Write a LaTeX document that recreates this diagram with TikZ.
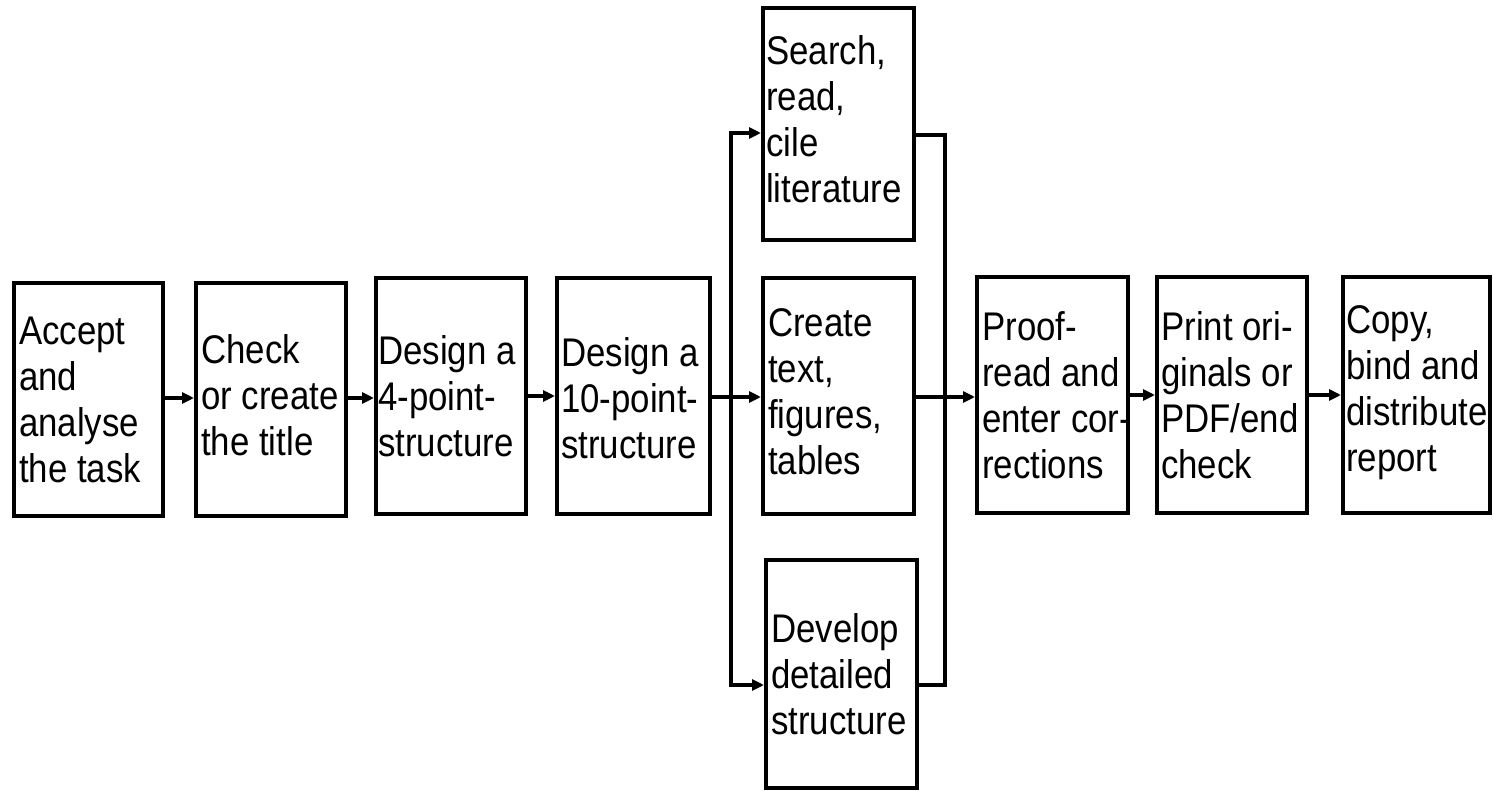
\documentclass[tikz,border=0pt]{standalone}
\usepackage{fontspec}
\setmainfont{Liberation Sans}[FakeStretch=0.87]
\usetikzlibrary{arrows.meta,calc}
\begin{document}
\begin{tikzpicture}[x=1pt,y=-1pt,
  box/.style={draw=black,line width=4pt,rectangle,inner sep=0pt},
  lbl/.style={anchor=west,inner sep=0pt,align=left,
    font=\fontsize{40}{46}\selectfont,text=black},
  conn/.style={line width=3.4pt,black},
  arr/.style={conn,-{Triangle[length=12pt,width=11pt]}}]
\useasboundingbox (0,0) rectangle (1493,791);
\fill[white] (0,0) rectangle (1493,791);
% boxes
\node[box,minimum width=149pt,minimum height=233pt] (accept) at (88.5,399.5) {};
\node[box,minimum width=150pt,minimum height=233pt] (check) at (271,399.5) {};
\node[box,minimum width=150pt,minimum height=236pt] (four) at (451,396) {};
\node[box,minimum width=153pt,minimum height=236pt] (ten) at (633.5,396) {};
\node[box,minimum width=151pt,minimum height=232pt] (search) at (838.5,124) {};
\node[box,minimum width=151pt,minimum height=236pt] (create) at (838.5,396) {};
\node[box,minimum width=151pt,minimum height=228pt] (develop) at (841.5,674) {};
\node[box,minimum width=151pt,minimum height=236pt] (proof) at (1052.5,395) {};
\node[box,minimum width=150pt,minimum height=236pt] (print) at (1232,395) {};
\node[box,minimum width=147pt,minimum height=236pt] (copy) at (1416.5,395) {};
% texts
\node[lbl] (taccept) at ([xshift=7pt]accept.west) {Accept\\and\\analyse\\the task};
\node[lbl] (tcheck) at ([xshift=7pt,yshift=4pt]check.west) {Check\\or create\\the title};
\node[lbl] (tfour) at ([xshift=4pt]four.west) {Design a\\4-point-\\structure};
\node[lbl] (tten) at ([xshift=6pt,yshift=-2pt]ten.west) {Design a\\10-point-\\structure};
\node[lbl] (tsearch) at ([xshift=5pt,yshift=5pt]search.west) {Search,\\read,\\cile\\literature};
\node[lbl] (tcreate) at ([xshift=7pt,yshift=4pt]create.west) {Create\\text,\\figures,\\tables};
\node[lbl] (tdevelop) at ([xshift=7pt]develop.west) {Develop\\detailed\\structure};
\node[lbl] (tproof) at ([xshift=7pt]proof.west) {Proof-\\read and\\enter cor-\\rections};
\node[lbl] (tprint) at ([xshift=6pt]print.west) {Print ori-\\ginals or\\PDF/end\\check};
\node[lbl] (tcopy) at ([xshift=5pt,yshift=2pt]copy.west) {Copy,\\bind and\\distribute\\report};
% main chain
\draw[arr] ([yshift=1.5pt]accept.east) -- ([yshift=1.5pt]accept.east -| check.west);
\draw[arr] ([yshift=1.5pt]check.east) -- ([yshift=1.5pt]check.east -| four.west);
\draw[arr] (four.east) -- (four.east -| ten.west);
\draw[arr] ([yshift=-1pt]ten.east) -- ([yshift=-1pt]ten.east -| create.west);
% branching
\coordinate (split) at (731,397);
\coordinate (merge) at (945,397);
\draw[arr] (split) |- ([yshift=-9pt]search.west);
\draw[arr] (split) |- ([yshift=-11pt]develop.west);
\draw[conn] ([yshift=-11pt]search.east) -| (merge);
\draw[conn] ([yshift=-11pt]develop.east) -| (merge);
\draw[arr] ([yshift=-1pt]create.east) -- ([yshift=-1pt]create.east -| proof.west);
\draw[arr] (proof.east) -- (proof.east -| print.west);
\draw[arr] (print.east) -- (print.east -| copy.west);
\end{tikzpicture}
\end{document}
